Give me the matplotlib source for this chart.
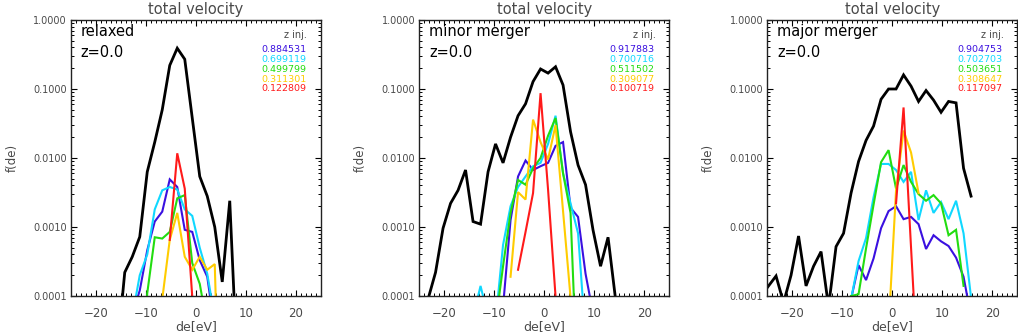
import matplotlib
matplotlib.use("Agg")
import matplotlib.pyplot as plt
from matplotlib.ticker import MultipleLocator, LogLocator, FixedLocator, NullFormatter

# ---- data (f(de) vs de[eV]) ----
panel_names = ["relaxed", "minor merger", "major merger"]
z_now = "z=0.0"

rel_zinj = ["0.884531", "0.699119", "0.499799", "0.311301", "0.122809"]
min_zinj = ["0.917883", "0.700716", "0.511502", "0.309077", "0.100719"]
maj_zinj = ["0.904753", "0.702703", "0.503651", "0.308647", "0.117097"]

# relaxed
rel_black_x = [-15.75, -14.25, -12.75, -11.25, -9.75, -8.25, -6.75, -5.25, -3.75, -2.25, -0.75, 0.75, 2.25, 3.75, 5.25, 6.75, 8.25]
rel_black_y = [1.6e-5, 2.2e-4, 3.7e-4, 7.2e-4, 6.3e-3, 0.017, 0.050, 0.22, 0.39, 0.27, 0.038, 5.4e-3, 2.8e-3, 1.0e-3, 1.6e-4, 2.4e-3, 9e-6]
rel_blue_x = [-12.75, -11.25, -9.75, -8.25, -6.75, -5.25, -3.75, -2.25, -0.75, 0.75, 2.25, 3.75]
rel_blue_y = [5.5e-5, 1.2e-4, 4.6e-4, 1.2e-3, 1.67e-3, 4.9e-3, 3.8e-3, 9.1e-4, 8.5e-4, 3.3e-4, 1.9e-4, 3.3e-5]
rel_cyan_x = [-12.75, -11.25, -9.75, -8.25, -6.75, -5.25, -3.75, -2.25, -0.75, 0.75, 2.25, 3.75]
rel_cyan_y = [5e-5, 2.0e-4, 4.0e-4, 1.8e-3, 3.4e-3, 3.8e-3, 3.5e-3, 1.8e-3, 1.45e-3, 5.0e-4, 2.1e-4, 4.8e-5]
rel_green_x = [-11.25, -9.75, -8.25, -6.75, -5.25, -3.75, -2.25, -0.75, 0.75, 2.25]
rel_green_y = [1e-6, 1.1e-4, 7.1e-4, 6.8e-4, 8.5e-4, 2.6e-3, 2.9e-3, 3.0e-4, 1.5e-4, 3.7e-5]
rel_yellow_x = [-6.75, -5.25, -3.75, -2.25, -0.75, 0.75, 2.25, 3.75, 5.25]
rel_yellow_y = [9e-5, 6.5e-4, 1.6e-3, 3.7e-4, 2.4e-4, 3.7e-4, 2.4e-4, 2.9e-4, 5e-8]
rel_red_x = [-5.25, -3.75, -2.25, -0.75]
rel_red_y = [6.5e-4, 0.0117, 3.6e-3, 9.8e-5]

# minor merger
min_black_x = [-23.25, -21.75, -20.25, -18.75, -17.25, -15.75, -14.25, -12.75, -11.25, -9.75, -8.25, -6.75, -5.25,
               -3.75, -2.25, -0.75, 0.75, 2.25, 3.75, 5.25, 6.75, 8.25, 9.75, 11.25, 12.75, 14.25]
min_black_y = [9e-5, 2.2e-4, 9.6e-4, 2.2e-3, 3.4e-3, 6.7e-3, 1.2e-3, 1.1e-3, 6.3e-3, 0.016, 8.5e-3, 0.020, 0.041,
               0.061, 0.128, 0.195, 0.17, 0.21, 0.114, 0.024, 7.9e-3, 4.1e-3, 9.0e-4, 2.7e-4, 7.1e-4, 9e-5]
min_blue_x = [-8.25, -6.75, -5.25, -3.75, -2.25, -0.75, 0.75, 2.25, 3.75, 5.25, 6.75, 8.25, 9.75]
min_blue_y = [7e-5, 1.26e-3, 5.4e-3, 9.2e-3, 6.7e-3, 7.6e-3, 8.5e-3, 0.015, 0.017, 1.9e-3, 1.4e-3, 2.1e-4, 5.6e-5]
min_cyan_x = [-14.25, -12.75, -11.25, -9.75, -8.25, -6.75, -5.25, -3.75, -2.25, -0.75, 0.75, 2.25, 3.75, 5.25, 6.75, 8.25]
min_cyan_y = [5e-5, 1.4e-4, 5e-5, 4.3e-5, 5.5e-4, 2.0e-3, 3.8e-3, 5.4e-3, 7.6e-3, 8.5e-3, 0.016, 0.041, 6.0e-3, 2.2e-3, 8.1e-4, 2.5e-5]
min_green_x = [-9.75, -8.25, -6.75, -5.25, -3.75, -2.25, -0.75, 0.75, 2.25, 3.75, 5.25, 6.75]
min_green_y = [4e-5, 2.7e-4, 1.6e-3, 4.8e-3, 4.1e-3, 7.1e-3, 0.010, 0.021, 0.038, 6.0e-3, 1.6e-3, 2.7e-6]
min_yellow_x = [-6.75, -5.25, -3.75, -2.25, -0.75, 0.75, 2.25, 3.75, 5.25]
min_yellow_y = [1.9e-4, 3.2e-3, 2.5e-3, 0.036, 0.017, 9.5e-3, 0.030, 1.7e-3, 9.5e-5]
min_red_x = [-5.25, -3.75, -2.25, -0.75, 0.75, 2.25]
min_red_y = [2.4e-4, 8.5e-4, 3.1e-3, 0.087, 3.5e-3, 9.8e-5]

# major merger
maj_black_x = [-26.25, -24.75, -23.25, -21.75, -20.25, -18.75, -17.25, -15.75, -14.25, -12.75, -11.25, -9.75, -8.25, -6.75,
               -5.25, -3.75, -2.25, -0.75, 0.75, 2.25, 3.75, 5.25, 6.75, 8.25, 9.75, 11.25, 12.75, 14.25, 15.75]
maj_black_y = [1e-4, 1.4e-4, 1.95e-4, 8e-5, 2e-4, 7.4e-4, 1.4e-4, 2.7e-4, 4.4e-4, 7e-5, 5.2e-4, 8.1e-4, 3.1e-3, 8.9e-3,
               0.018, 0.029, 0.071, 0.10, 0.10, 0.16, 0.11, 0.066, 0.095, 0.069, 0.046, 0.066, 0.063, 7.1e-3, 2.8e-3]
maj_blue_x = [-8.25, -6.75, -5.25, -3.75, -2.25, -0.75, 0.75, 2.25, 3.75, 5.25, 6.75, 8.25, 9.75, 11.25, 12.75, 14.25, 15.75]
maj_blue_y = [9e-5, 2.8e-4, 1.7e-4, 3.5e-4, 9.6e-4, 1.7e-3, 2.0e-3, 1.3e-3, 1.4e-3, 1.1e-3, 4.8e-4, 7.6e-4, 6.2e-4, 5.3e-4, 3.6e-4, 1.9e-4, 5e-5]
maj_cyan_x = [-8.25, -6.75, -5.25, -3.75, -2.25, -0.75, 0.75, 2.25, 3.75, 5.25, 6.75, 8.25, 9.75, 11.25, 12.75, 14.25, 15.75]
maj_cyan_y = [9e-5, 3.2e-4, 6.9e-4, 2.7e-3, 8.2e-3, 8.2e-3, 6.7e-3, 4.5e-3, 6.3e-3, 1.26e-3, 3.4e-3, 1.6e-3, 2.3e-3, 1.3e-3, 2.4e-3, 8.1e-4, 9.5e-5]
maj_green_x = [-8.25, -6.75, -5.25, -3.75, -2.25, -0.75, 0.75, 2.25, 3.75, 5.25, 6.75, 8.25, 9.75, 11.25, 12.75, 14.25]
maj_green_y = [1.0e-4, 1.06e-4, 4.9e-4, 2.1e-3, 8.7e-3, 0.013, 3.6e-3, 7.9e-3, 4.5e-3, 3.0e-3, 2.4e-3, 2.9e-3, 2.2e-3, 7.6e-4, 9.1e-4, 1.4e-4]
maj_yellow_x = [-0.75, 0.75, 2.25, 3.75, 5.25]
maj_yellow_y = [3.4e-5, 3.4e-3, 0.025, 0.012, 3.1e-3]
maj_red_x = [0.75, 2.25, 3.75, 5.25]
maj_red_y = [2.2e-3, 0.054, 5e-4, 5e-6]

ytick_vals = [1e-4, 1e-3, 1e-2, 1e-1, 1.0]
ytick_labels = ["0.0001", "0.0010", "0.0100", "0.1000", "1.0000"]

colors = ["black", "#3a10e0", "#10d8ff", "#22dd10", "#ffcc00", "#ff1a1a"]
widths = [2.0, 1.5, 1.5, 1.5, 1.5, 1.5]

panels = [
    (rel_zinj, [(rel_black_x, rel_black_y), (rel_blue_x, rel_blue_y), (rel_cyan_x, rel_cyan_y),
                (rel_green_x, rel_green_y), (rel_yellow_x, rel_yellow_y), (rel_red_x, rel_red_y)]),
    (min_zinj, [(min_black_x, min_black_y), (min_blue_x, min_blue_y), (min_cyan_x, min_cyan_y),
                (min_green_x, min_green_y), (min_yellow_x, min_yellow_y), (min_red_x, min_red_y)]),
    (maj_zinj, [(maj_black_x, maj_black_y), (maj_blue_x, maj_blue_y), (maj_cyan_x, maj_cyan_y),
                (maj_green_x, maj_green_y), (maj_yellow_x, maj_yellow_y), (maj_red_x, maj_red_y)]),
]

gray = "#4a4a4a"
fig = plt.figure(figsize=(10.18, 3.35), dpi=100)
lefts = [71.0, 419.3, 767.3]

for i, (zinj, series) in enumerate(panels):
    ax = fig.add_axes([lefts[i] / 1018, 39 / 335, 250 / 1018, 276 / 335])
    for (x, y), c, lw in zip(series, colors, widths):
        ax.plot(x, y, color=c, lw=lw, solid_joinstyle="miter")
    ax.set_yscale("log")
    ax.set_xlim(-25, 25)
    ax.set_ylim(1e-4, 1.0)

    ax.xaxis.set_major_locator(MultipleLocator(10))
    ax.xaxis.set_minor_locator(MultipleLocator(1))
    ax.yaxis.set_major_locator(FixedLocator(ytick_vals))
    ax.set_yticklabels(ytick_labels)
    ax.yaxis.set_minor_locator(LogLocator(base=10, subs=range(2, 10)))
    ax.yaxis.set_minor_formatter(NullFormatter())
    ax.tick_params(which="both", direction="in", top=True, right=True, colors="black", labelcolor=gray)
    ax.tick_params(which="major", length=4.3, width=0.8)
    ax.tick_params(which="minor", length=2.2, width=0.7)
    ax.tick_params(axis="x", labelsize=8.5, pad=8)
    ax.tick_params(axis="y", labelsize=7, pad=3)
    for sp in ax.spines.values():
        sp.set_linewidth(1.0)
        sp.set_color("#222222")

    ax.set_title("total velocity", fontsize=10.5, color=gray, pad=4)
    ax.text(-0.236, 0.5, "f(de)", transform=ax.transAxes, rotation=90, ha="center", va="center",
            fontsize=8.5, color=gray)
    ax.text(0.5, -0.109, "de[eV]", transform=ax.transAxes, ha="center", va="center", fontsize=9, color=gray)

    ax.text(0.039, 0.943, panel_names[i], transform=ax.transAxes, fontsize=10.5, va="baseline", ha="left")
    ax.text(0.039, 0.867, z_now, transform=ax.transAxes, fontsize=10.5, va="baseline", ha="left")

    ax.text(0.945, 0.933, "z inj.", transform=ax.transAxes, fontsize=7, va="baseline", ha="right", color=gray)
    for k, (lab, c) in enumerate(zip(zinj, colors[1:])):
        ax.text(0.942, 0.883 - 0.0353 * k, lab, transform=ax.transAxes, fontsize=6.8,
                va="baseline", ha="right", color=c)

fig.savefig("out.png", dpi=100)
